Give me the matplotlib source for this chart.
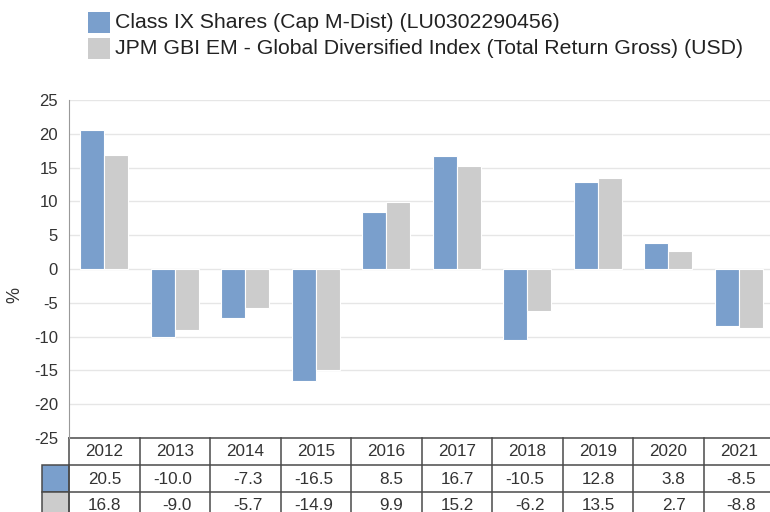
import numpy as np
import matplotlib.pyplot as plt
from matplotlib.patches import Rectangle

plt.rcParams['font.family'] = ['Liberation Sans', 'DejaVu Sans']
plt.rcParams['axes.unicode_minus'] = False

years = ['2012', '2013', '2014', '2015', '2016', '2017', '2018', '2019', '2020', '2021']
fund = [20.5, -10.0, -7.3, -16.5, 8.5, 16.7, -10.5, 12.8, 3.8, -8.5]
index = [16.8, -9.0, -5.7, -14.9, 9.9, 15.2, -6.2, 13.5, 2.7, -8.8]
names = ['Class IX Shares (Cap M-Dist) (LU0302290456)',
         'JPM GBI EM - Global Diversified Index (Total Return Gross) (USD)']
colors = ['#7a9fcc', '#cccccc']

W, H = 770, 512
fig = plt.figure(figsize=(W / 100, H / 100), dpi=100)
ax = fig.add_axes([69 / W, 1 - 438 / H, 705 / W, 338 / H])

x = np.arange(len(years))
bw = 0.34
ax.bar(x - bw / 2, fund, bw, color=colors[0], edgecolor='white', linewidth=0.8, zorder=3)
ax.bar(x + bw / 2, index, bw, color=colors[1], edgecolor='white', linewidth=0.8, zorder=3)

ax.set_xlim(-0.5, len(years) - 0.5)
ax.set_ylim(-25, 25)
ax.set_yticks(range(-25, 30, 5))
ax.yaxis.grid(True, color='#e6e6e6', linewidth=1, zorder=0)
ax.set_xticks([])
ax.tick_params(axis='y', length=0, labelsize=12, labelcolor='#333333', pad=8)
for s in ['top', 'right', 'bottom']:
    ax.spines[s].set_visible(False)
ax.spines['left'].set_color('#999999')
fig.text(15 / W, 1 - 295 / H, '%', rotation=90, ha='center', va='center',
         fontsize=13, color='#333333')

# data table below the axes, drawn in data-x / pixel-y
trans = ax.get_xaxis_transform()
def fy(py):
    return (438 - py) / 338

colw = 705 / len(years)
rows_y = [438, 465, 492, 519]
lc = '#4a4a4a'
for py in rows_y:
    ax.plot([-0.5, len(years) - 0.5], [fy(py)] * 2, color=lc, lw=1.1,
            transform=trans, clip_on=False)
for i in range(len(years) + 1):
    ax.plot([i - 0.5] * 2, [fy(438), fy(519)], color=lc, lw=1.1,
            transform=trans, clip_on=False)
# row headers (colour swatches)
for r, c in enumerate(colors):
    y0, y1 = rows_y[r + 1], rows_y[r + 2]
    ax.add_patch(Rectangle((-0.5 - 27 / colw, fy(y1)), 27 / colw, fy(y0) - fy(y1),
                           facecolor=c, edgecolor=lc, lw=1.1, transform=trans,
                           clip_on=False))
for i, yr in enumerate(years):
    ax.text(i, fy(452), yr, ha='center', va='center', fontsize=12.3,
            color='#333333', transform=trans, clip_on=False)
    xr = i + 0.5 - 18 / colw
    ax.text(xr, fy(479), f'{fund[i]:.1f}', ha='right', va='center', fontsize=12.3,
            color='#333333', transform=trans, clip_on=False)
    ax.text(xr, fy(505.5), f'{index[i]:.1f}', ha='right', va='center', fontsize=12.3,
            color='#333333', transform=trans, clip_on=False)

# legend
for k, (n, c) in enumerate(zip(names, colors)):
    yc = 1 - (22 + 26 * k) / H
    fig.patches.append(Rectangle((88 / W, yc - 10.5 / H), 22 / W, 21 / H,
                                 facecolor=c, edgecolor='none',
                                 transform=fig.transFigure, figure=fig))
    fig.text(115 / W, yc, n, ha='left', va='center', fontsize=15.3, color='#222222')

fig.savefig('out.png', dpi=100)
